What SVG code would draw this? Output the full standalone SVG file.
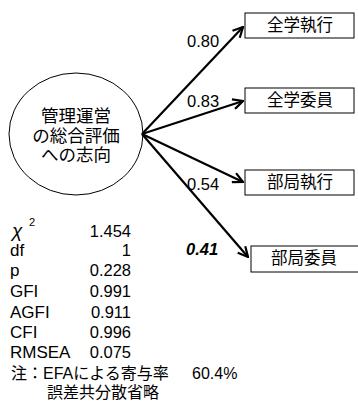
<svg xmlns="http://www.w3.org/2000/svg" width="358" height="401" viewBox="0 0 358 401">
<style>
text{font-family:"Liberation Sans","Noto Sans CJK JP",sans-serif;fill:#000}
.box{fill:#fff;stroke:#000;stroke-width:1}
.bt{font-size:16.5px;text-anchor:middle}
.num{font-size:16.5px}
.st{font-size:17px}
.nt{font-size:16px}
.val{font-size:16.5px;text-anchor:end}
.conn{stroke:#000;stroke-width:2.2;fill:none;marker-end:url(#arr)}
</style>
<defs>
<marker id="arr" viewBox="0 0 12 12" refX="11" refY="6" markerWidth="12" markerHeight="12" markerUnits="userSpaceOnUse" orient="auto">
<path d="M1,1 L11,6 L1,11" fill="none" stroke="#000" stroke-width="2.2"/>
</marker>
</defs>
<g id="latent">
<ellipse cx="76" cy="134" rx="67" ry="61" fill="#fff" stroke="#000" stroke-width="1"/>
<text x="76" y="122" font-size="17.5" text-anchor="middle">管理運営</text>
<text x="76" y="142" font-size="17.5" text-anchor="middle">の総合評価</text>
<text x="76" y="161" font-size="17.5" text-anchor="middle">への志向</text>
</g>
<g id="connectors">
<line class="conn" x1="142" y1="134" x2="243" y2="27"/>
<line class="conn" x1="142" y1="134" x2="243" y2="101"/>
<line class="conn" x1="142" y1="134" x2="243" y2="182"/>
<line class="conn" x1="142" y1="134" x2="248" y2="257"/>
<text class="num" x="187" y="47">0.80</text>
<text class="num" x="187" y="107">0.83</text>
<text class="num" x="187" y="190">0.54</text>
<text class="num" x="186" y="255" font-weight="bold" font-style="italic">0.41</text>
</g>
<g id="n1"><rect class="box" x="245" y="13" width="109" height="25"/><text class="bt" x="300" y="31">全学執行</text></g>
<g id="n2"><rect class="box" x="245" y="88" width="109" height="25"/><text class="bt" x="300" y="106">全学委員</text></g>
<g id="n3"><rect class="box" x="245" y="170" width="109" height="25"/><text class="bt" x="300" y="188">部局執行</text></g>
<g id="n4"><rect class="box" x="251" y="246" width="110" height="26"/><text class="bt" x="304" y="264">部局委員</text></g>
<g id="stats">
<text x="12" y="237" font-size="19" font-style="italic" font-family="'Liberation Serif',serif">χ</text>
<text x="29" y="226" font-size="11">2</text>
<text class="val" x="131" y="237">1.454</text>
<text class="st" x="10" y="256">df</text><text class="val" x="131" y="256">1</text>
<text class="st" x="10" y="276">p</text><text class="val" x="131" y="276">0.228</text>
<text class="st" x="10" y="297">GFI</text><text class="val" x="131" y="297">0.991</text>
<text class="st" x="10" y="318">AGFI</text><text class="val" x="131" y="318">0.911</text>
<text class="st" x="10" y="338">CFI</text><text class="val" x="131" y="338">0.996</text>
<text class="st" x="10" y="358">RMSEA</text><text class="val" x="131" y="358">0.075</text>
<text class="nt" x="11" y="379">注：EFAによる寄与率</text>
<text class="nt" x="192" y="379">60.4%</text>
<text class="nt" x="47" y="398">誤差共分散省略</text>
</g>
</svg>
